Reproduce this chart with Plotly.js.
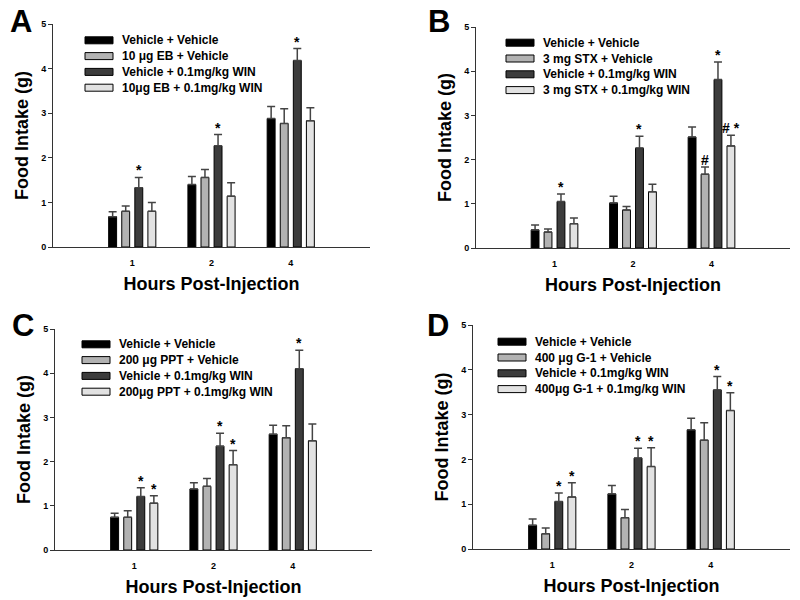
<!DOCTYPE html>
<html>
<head>
<meta charset="utf-8">
<script src="https://cdn.plot.ly/plotly-3.0.1.min.js"></script>
<style>html,body{margin:0;padding:0;background:#fff}#chart{width:800px;height:600px}</style>
</head>
<body>
<div id="chart"></div>
<script>
// ---------- DATA ----------
const hours = ['1', '2', '4'];
const panelLetters = ['A', 'B', 'C', 'D'];

const aLabels = ['Vehicle + Vehicle', '10 μg EB + Vehicle', 'Vehicle + 0.1mg/kg WIN', '10μg EB + 0.1mg/kg WIN'];
const aMeans = [[0.68, 1.40, 2.88], [0.80, 1.56, 2.77], [1.33, 2.27, 4.18], [0.80, 1.14, 2.83]];
const aErrs  = [[0.11, 0.18, 0.27], [0.12, 0.18, 0.33], [0.23, 0.25, 0.27], [0.20, 0.30, 0.29]];
const aMarks = [['', '', ''], ['', '', ''], ['*', '*', '*'], ['', '', '']];

const bLabels = ['Vehicle + Vehicle', '3 mg STX + Vehicle', 'Vehicle + 0.1mg/kg WIN', '3 mg STX + 0.1mg/kg WIN'];
const bMeans = [[0.41, 1.02, 2.51], [0.36, 0.86, 1.67], [1.05, 2.26, 3.81], [0.55, 1.27, 2.31]];
const bErrs  = [[0.11, 0.15, 0.23], [0.07, 0.08, 0.16], [0.17, 0.27, 0.40], [0.13, 0.17, 0.24]];
const bMarks = [['', '', ''], ['', '', '#'], ['*', '*', '*'], ['', '', '# *']];

const cLabels = ['Vehicle + Vehicle', '200 μg PPT + Vehicle', 'Vehicle + 0.1mg/kg WIN', '200μg PPT + 0.1mg/kg WIN'];
const cMeans = [[0.74, 1.38, 2.62], [0.74, 1.44, 2.54], [1.21, 2.35, 4.10], [1.06, 1.93, 2.47]];
const cErrs  = [[0.09, 0.14, 0.20], [0.15, 0.18, 0.27], [0.20, 0.29, 0.42], [0.17, 0.32, 0.38]];
const cMarks = [['', '', ''], ['', '', ''], ['*', '*', '*'], ['*', '*', '']];

const dLabels = ['Vehicle + Vehicle', '400 μg G-1 + Vehicle', 'Vehicle + 0.1mg/kg WIN', '400μg G-1 + 0.1mg/kg WIN'];
const dMeans = [[0.53, 1.23, 2.66], [0.34, 0.70, 2.43], [1.06, 2.03, 3.55], [1.16, 1.84, 3.09]];
const dErrs  = [[0.14, 0.19, 0.26], [0.13, 0.18, 0.39], [0.19, 0.22, 0.30], [0.32, 0.42, 0.40]];
const dMarks = [['', '', ''], ['', '', ''], ['*', '*', '*'], ['*', '*', '*']];

const yTitle = 'Food Intake (g)';
const xTitle = 'Hours Post-Injection';

// ---------- STYLE / LAYOUT ----------
const FONT = 'Liberation Sans, Arial, Helvetica, sans-serif';
const fills = ['#000000', '#b2b2b2', '#3c3c3c', '#e2e2e2'];
const W = 800, H = 600;
const px = v => v / W;
const py = v => 1 - v / H;

const panels = [
  {labels: aLabels, means: aMeans, errs: aErrs, marks: aMarks, box: {l: 53, r: 370, t: 24, b: 247}, leg: {x: 85, y: 40.3}, letter: {x: 20.5, y: 21}},
  {labels: bLabels, means: bMeans, errs: bErrs, marks: bMarks, box: {l: 476, r: 790, t: 27, b: 248}, leg: {x: 506, y: 42.7}, letter: {x: 439, y: 21.5}},
  {labels: cLabels, means: cMeans, errs: cErrs, marks: cMarks, box: {l: 55, r: 372, t: 329, b: 550}, leg: {x: 82, y: 344.3}, letter: {x: 23, y: 325}},
  {labels: dLabels, means: dMeans, errs: dErrs, marks: dMarks, box: {l: 473, r: 790, t: 325, b: 549}, leg: {x: 498, y: 341.7}, letter: {x: 437.5, y: 325}}
];

const PITCH = 0.165, BARW = 0.1;
const traces = [];
const annotations = [];
const shapes = [];
const layout = {
  width: W, height: H, margin: {l: 0, r: 0, t: 0, b: 0},
  paper_bgcolor: '#fff', plot_bgcolor: '#fff',
  showlegend: false, barmode: 'overlay',
  font: {family: FONT, color: '#000', weight: 'bold'}
};

panels.forEach((p, k) => {
  const sfx = k === 0 ? '' : String(k + 1);
  const xa = 'x' + sfx, ya = 'y' + sfx;
  p.means.forEach((vals, s) => {
    const xs = hours.map((h, i) => i + (s - 1.5) * PITCH);
    traces.push({
      type: 'bar', x: xs, y: vals, width: BARW, xaxis: xa, yaxis: ya,
      name: p.labels[s],
      marker: {color: fills[s], line: {color: '#000', width: 1}},
      error_y: {type: 'data', symmetric: false, array: p.errs[s], arrayminus: vals.map(() => 0),
                color: '#444', thickness: 1.5, width: 4}
    });
    vals.forEach((v, i) => {
      const m = p.marks[s][i];
      if (m) annotations.push({
        xref: xa, yref: ya, x: xs[i], y: v + p.errs[s][i], text: m, showarrow: false,
        xanchor: 'center', yanchor: 'bottom', yshift: -3,
        font: {family: FONT, size: 14, weight: 'bold', color: '#000'}
      });
    });
    // legend swatch + label
    const ry = p.leg.y + s * 15.8;
    shapes.push({type: 'rect', xref: 'paper', yref: 'paper',
      x0: px(p.leg.x), x1: px(p.leg.x + 28), y0: py(ry - 3.5), y1: py(ry + 3.5),
      fillcolor: fills[s], line: {color: '#000', width: 1}});
    annotations.push({xref: 'paper', yref: 'paper', x: px(p.leg.x + 35), y: py(ry),
      text: p.labels[s], showarrow: false, xanchor: 'left', yanchor: 'middle',
      font: {family: FONT, size: 12, weight: 'bold', color: '#000'}});
  });
  annotations.push({xref: 'paper', yref: 'paper', x: px(p.letter.x), y: py(p.letter.y),
    text: panelLetters[k], showarrow: false, xanchor: 'center', yanchor: 'middle',
    font: {family: FONT, size: 31, weight: 'bold', color: '#000'}});

  layout['xaxis' + sfx] = {
    domain: [px(p.box.l), px(p.box.r)], anchor: ya, range: [-1, 3],
    tickvals: hours.map((h, i) => i), ticktext: hours,
    ticks: 'outside', ticklen: 7, tickcolor: 'rgba(0,0,0,0)',
    showline: true, linecolor: '#333', linewidth: 1, showgrid: false, zeroline: false,
    tickfont: {family: FONT, size: 9, weight: 'bold', color: '#000'},
    title: {text: xTitle, standoff: 10, font: {family: FONT, size: 18, weight: 'bold', color: '#000'}}
  };
  layout['yaxis' + sfx] = {
    domain: [py(p.box.b), py(p.box.t)], anchor: xa, range: [0, 5], dtick: 1,
    ticks: 'outside', ticklen: 4, tickcolor: '#333', tickwidth: 1,
    showline: true, linecolor: '#333', linewidth: 1, showgrid: false, zeroline: false,
    tickfont: {family: FONT, size: 9, weight: 'bold', color: '#000'},
    title: {text: yTitle, standoff: 7, font: {family: FONT, size: 18, weight: 'bold', color: '#000'}}
  };
});

layout.annotations = annotations;
layout.shapes = shapes;
Plotly.newPlot('chart', traces, layout, {staticPlot: true});
</script>
</body>
</html>
